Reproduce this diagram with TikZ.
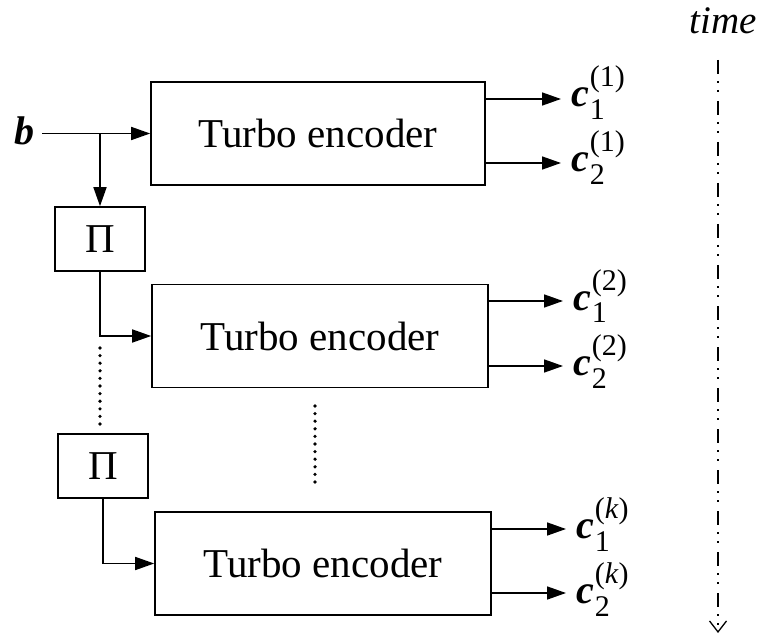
\documentclass[tikz,border=0pt]{standalone}
\usepackage{fontspec}
\setmainfont{Liberation Serif}
\usetikzlibrary{arrows.meta}
\tikzset{
  enc/.style={draw, line width=1.6pt, minimum width=336pt, minimum height=103pt, inner sep=0pt, font=\fontsize{41}{46}\selectfont},
  perm/.style={draw, line width=1.6pt, minimum width=90pt, minimum height=64pt, inner sep=0pt, font=\fontsize{41}{46}\selectfont},
  conn/.style={line width=1.6pt, -{Triangle[length=19pt,width=13pt]}},
  lbl/.style={anchor=base west, inner sep=0pt, font=\fontsize{40}{40}\selectfont},
  dots/.style={line width=3.6pt, line cap=round, dash pattern=on 0pt off 7.6pt},
}
\newcommand{\cv}[2]{\textbf{\textit{c}}\kern1pt\makebox[0pt][l]{\raisebox{20pt}{\fontsize{30}{30}\selectfont(#2)}}\raisebox{-13pt}{\fontsize{30}{30}\selectfont #1}\kern28pt}
\begin{document}
\begin{tikzpicture}[x=1pt,y=-1pt]
\useasboundingbox (0,0) rectangle (766,639);
% encoders
\node[enc, minimum width=334pt] (e1) at (318,133.5) {Turbo encoder};
\node[enc] (e2) at (320,336) {Turbo encoder};
\node[enc] (e3) at (323,563.5) {Turbo encoder};
% interleavers
\node[perm] (p1) at (100,239) {Π};
\node[perm] (p2) at (103,466) {Π};
% input
\node[inner sep=0pt, font=\fontsize{40}{44}\selectfont] (b) at (24,131) {\textbf{\textit{b}}};
\coordinate (bs) at (42,133.5);
\coordinate (br) at (100,133.5);
\draw[conn] (bs) -- (e1.west);
\draw[conn] (br) -- (p1.north);
\draw[conn] (p1.south) |- (e2.west);
\draw[conn] (p2.south) |- (e3.west);
% outputs
\node[lbl] (c11) at (571,107) {\cv{1}{1}};
\node[lbl] (c12) at (571,172) {\cv{2}{1}};
\node[lbl] (c21) at (573,310) {\cv{1}{2}};
\node[lbl] (c22) at (573,375) {\cv{2}{2}};
\node[lbl] (c31) at (576,538) {\cv{1}{\textit{k}}};
\node[lbl] (c32) at (576,603) {\cv{2}{\textit{k}}};
\draw[conn] (e1.east |- 0,99) -- ([xshift=-10pt]c11.west |- 0,99);
\draw[conn] (e1.east |- 0,163) -- ([xshift=-10pt]c12.west |- 0,163);
\draw[conn] (e2.east |- 0,301) -- ([xshift=-10pt]c21.west |- 0,301);
\draw[conn] (e2.east |- 0,366) -- ([xshift=-10pt]c22.west |- 0,366);
\draw[conn] (e3.east |- 0,529) -- ([xshift=-10pt]c31.west |- 0,529);
\draw[conn] (e3.east |- 0,593) -- ([xshift=-10pt]c32.west |- 0,593);
% dotted continuations
\coordinate (d1a) at (100,348);
\coordinate (d1b) at (100,425);
\coordinate (d2a) at (315,406);
\coordinate (d2b) at (315,482);
\draw[dots] (d1a) -- (d1b);
\draw[dots] (d2a) -- (d2b);
% time axis
\node[font=\fontsize{39}{42}\selectfont\itshape, inner sep=0pt] (time) at (723,21) {time};
\coordinate (ta) at (718,60);
\coordinate (tb) at (718,633);
\draw[line width=1.6pt, dash pattern=on 14pt off 7pt on 2pt off 7pt on 2pt off 9pt, -{Straight Barb[length=11pt,width=17pt,line width=1.3pt]}] (ta) -- (tb);
\end{tikzpicture}
\end{document}
